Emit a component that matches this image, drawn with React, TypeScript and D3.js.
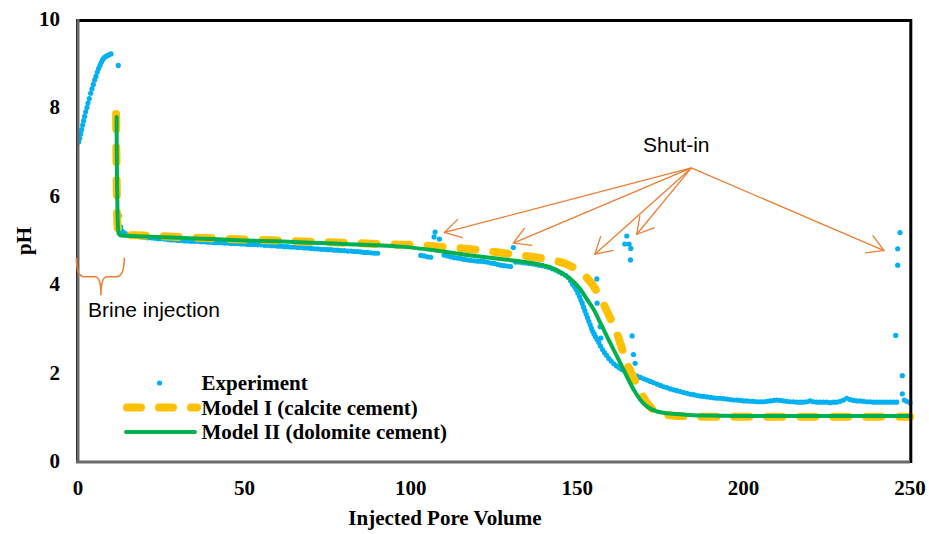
import React from "react";
import * as d3 from "d3";

const xTicks = [0, 50, 100, 150, 200, 250];
const yTicks = [0, 2, 4, 6, 8, 10];

const experiment: [number, number][] = [
  [0.2,7.22],[0.5,7.3],[0.8,7.4],[1.1,7.5],[1.4,7.6],[1.7,7.7],[2.0,7.8],[2.3,7.9],[2.7,8.0],[3.0,8.1],
  [3.4,8.2],[3.8,8.32],[4.2,8.42],[4.6,8.52],[5.0,8.62],[5.4,8.7],[5.8,8.8],[6.2,8.88],[6.6,8.95],[7.0,9.02],
  [7.4,9.08],[7.8,9.12],[8.3,9.15],[8.8,9.17],[9.3,9.19],[9.9,9.21],[12.1,8.95],
  [12.4,5.55],[12.8,5.3],[13.3,5.2],[13.8,5.16],[14.4,5.14],
  [15,5.12],[16,5.1],[17,5.09],[18,5.08],[19,5.07],[20,5.06],[21,5.05],[22,5.05],[23,5.04],[24,5.03],
  [25,5.03],[26,5.02],[27,5.01],[28,5.0],[29,5.0],[30,4.99],[31,4.99],[32,4.98],[33,4.98],[34,4.97],
  [35,4.97],[36,4.97],[37,4.96],[38,4.96],[39,4.95],[40,4.95],[41,4.94],[42,4.94],[43,4.94],[44,4.93],
  [45,4.93],[46,4.92],[47,4.92],[48,4.92],[49,4.91],[50,4.91],[51,4.9],[52,4.9],[53,4.9],[54,4.89],
  [55,4.89],[56,4.88],[57,4.88],[58,4.87],[59,4.87],[60,4.86],[61,4.86],[62,4.85],[63,4.85],[64,4.84],
  [65,4.84],[66,4.83],[67,4.83],[68,4.82],[69,4.82],[70,4.81],[71,4.8],[72,4.8],[73,4.79],[74,4.79],
  [75,4.78],[76,4.78],[77,4.77],[78,4.77],[79,4.76],[80,4.76],[81,4.75],[82,4.75],[83,4.74],[84,4.74],
  [85,4.73],[86,4.72],[87,4.72],[88,4.71],[89,4.7],[90,4.7],
  [103,4.65],[104,4.64],[105,4.62],[106,4.61],[107,5.07],[107.3,5.18],[108.6,5.02],
  [110,4.66],[111,4.64],[112,4.62],[113,4.6],[114,4.59],[115,4.58],[116,4.56],[117,4.55],[118,4.54],
  [119,4.53],[120,4.52],[121,4.52],[122,4.51],[123,4.5],[124,4.48],[125,4.47],[126,4.45],[127,4.43],
  [128,4.42],[129,4.41],[130,4.4],[130.8,4.83],
  [131.5,4.5],[132.5,4.5],[133.5,4.49],[134.5,4.48],[135.5,4.47],[136.5,4.46],[137.5,4.45],[138.5,4.43],
  [139.5,4.42],[140.5,4.4],[141.5,4.38],[142.5,4.35],[143.5,4.32],[144.5,4.28],[145.5,4.24],[146.5,4.2],
  [147.3,4.15],[148,4.08],[148.6,4.0],[149.2,3.94],[149.7,3.88],[150.2,3.8],[150.7,3.72],[151.1,3.64],
  [151.5,3.57],[151.9,3.48],[152.3,3.4],[152.7,3.32],[153.1,3.24],[153.5,3.16],[153.9,3.08],[154.3,3.0],
  [154.7,2.93],[155.1,2.87],[155.5,2.81],[156,2.75],[156.5,2.68],[157,2.6],[157.6,2.52],[158.2,2.45],
  [158.8,2.39],[159.5,2.32],[160.2,2.26],[161,2.2],[161.8,2.15],[162.6,2.11],[163.4,2.07],[164.2,2.04],
  [165,2.01],[166,1.98],[167,1.95],[168,1.92],[169,1.89],[170,1.86],[171,1.83],[172,1.8],[173,1.77],
  [174,1.74],[175,1.71],[176,1.68],[177,1.66],[178,1.63],[179,1.61],[180,1.59],[181,1.57],[182,1.55],
  [183,1.53],[184,1.51],[185,1.5],[186,1.48],[187,1.47],[188,1.46],[189,1.45],[190,1.44],[191,1.43],
  [192,1.42],[193,1.42],[194,1.41],[195,1.4],[196,1.39],[197,1.38],[198,1.38],[199,1.37],[200,1.36],
  [201,1.36],[202,1.35],[203,1.35],[204,1.34],[205,1.34],[206,1.34],[207,1.35],[208,1.36],[209,1.37],
  [210,1.38],[211,1.37],[212,1.36],[213,1.35],[214,1.34],[215,1.34],[216,1.33],[217,1.33],[218,1.33],
  [219,1.34],[220,1.36],[221,1.34],[222,1.33],[223,1.33],[224,1.33],[225,1.33],[226,1.32],[227,1.33],
  [228,1.33],[229,1.35],[230,1.38],[231,1.42],[232,1.39],[233,1.37],[234,1.36],[235,1.36],[236,1.35],
  [237,1.34],[238,1.34],[239,1.33],[240,1.33],[241,1.33],[242,1.33],[243,1.33],[244,1.33],[245,1.33],
  [246,1.33],
  [155.9,4.12],[156,3.57],[156.9,3.04],[157.1,2.78],[166.5,2.83],[166.9,2.41],[167.4,2.21],
  [164.9,5.09],[164.3,4.91],[165.6,4.91],[166.1,4.81],[166,4.55],
  [247,5.17],[246.3,4.8],[246.3,4.43],[245.7,2.84],[247.7,1.93],[247.7,1.52],[248.3,1.38],[249,1.35],[250,1.32],
];

const model1: [number, number][] = [
  [11.45,7.85],[11.5,7.3],[11.6,6.5],[11.7,5.8],[11.9,5.3],[12.3,5.14],[13,5.12],[20,5.1],[30,5.07],
  [40,5.04],[50,5.01],[60,4.99],[70,4.96],[80,4.94],[90,4.91],[100,4.89],[112,4.83],[122,4.76],
  [132,4.66],[142,4.55],[147,4.45],[151,4.27],[154,4.05],[157,3.69],[159.5,3.3],[161.6,2.96],
  [163,2.65],[164.6,2.28],[166.5,1.95],[168,1.72],[171,1.31],[173,1.15],[175,1.08],[180,1.02],
  [190,1.0],[250,1.0],
];

const model2: [number, number][] = [
  [11.6,7.78],[11.65,7.0],[11.75,6.2],[11.9,5.5],[12.2,5.15],[13,5.1],[20,5.08],[30,5.05],[40,5.02],
  [50,4.99],[60,4.97],[70,4.94],[80,4.91],[90,4.88],[97,4.85],[107,4.77],[117,4.66],[127,4.57],
  [137,4.47],[142,4.38],[145,4.27],[147,4.17],[149,4.05],[151,3.88],[153,3.65],[155,3.42],[157,3.12],
  [159,2.81],[161,2.51],[163,2.21],[165,1.9],[167,1.61],[169,1.38],[171,1.23],[174,1.12],[177,1.08],
  [182,1.05],[187,1.03],[200,1.02],[250,1.02],
];

const legendLabels = ["Experiment", "Model I (calcite cement)", "Model II (dolomite cement)"];

// annotation anchors in data coordinates
const shutInOrigin: [number, number] = [184.3, 6.63];
const shutInTips: [number, number][] = [
  [110.1, 5.17], [130.8, 4.93], [155.3, 4.68], [167.9, 5.13], [242.2, 4.76],
];

const BLUE = "#00B0F0";
const GOLD = "#FFC000";
const GREEN = "#00B050";
const ORANGE = "#ED7D31";
const SERIF = "'Liberation Serif', 'Times New Roman', serif";
const SANS = "'Liberation Sans', Arial, sans-serif";

export default function App() {
  const W = 929, H = 534;
  const x = d3.scaleLinear().domain([0, 250]).range([78, 910]);
  const y = d3.scaleLinear().domain([0, 10]).range([461, 19]);

  const line = d3.line<[number, number]>()
    .x(d => x(d[0]))
    .y(d => y(d[1]))
    .curve(d3.curveMonotoneX);

  const [ox, oy] = [x(shutInOrigin[0]), y(shutInOrigin[1])];
  const arrows = shutInTips.map(([tx, ty]) => {
    const px = x(tx), py = y(ty);
    const ang = Math.atan2(oy - py, ox - px);
    const L = 19, a = (30 * Math.PI) / 180;
    const h1 = [px + L * Math.cos(ang - a), py + L * Math.sin(ang - a)];
    const h2 = [px + L * Math.cos(ang + a), py + L * Math.sin(ang + a)];
    return { px, py, h1, h2 };
  });

  // brace under the first segment
  const bl = x(-0.5), br = x(13.9), bm = x(6.9);
  const bt = y(4.6), bh = y(4.17), btip = y(3.75);
  const brace = `M${bl},${bt} Q${bl},${bh} ${bl + 8},${bh} L${bm - 6},${bh} Q${bm},${bh} ${bm},${btip} Q${bm},${bh} ${bm + 6},${bh} L${br - 8},${bh} Q${br},${bh} ${br},${bt}`;

  return (
    <div style={{ position: "absolute", left: 0, top: 0 }}>
      <svg width={W} height={H} style={{ display: "block", background: "#fff" }}>
        <rect x={0} y={0} width={W} height={H} fill="#fff" />
        {/* experiment dots */}
        <g fill={BLUE}>
          {experiment.map((d, i) => (
            <circle key={i} cx={x(d[0])} cy={y(d[1])} r={2.6} />
          ))}
        </g>
        {/* Model I */}
        <path d={line(model1) || ""} fill="none" stroke={GOLD} strokeWidth={8}
          strokeDasharray="15 18" strokeLinecap="round" strokeLinejoin="round" />
        {/* Model II */}
        <path d={line(model2) || ""} fill="none" stroke={GREEN} strokeWidth={4}
          strokeLinecap="round" strokeLinejoin="round" />

        {/* frame */}
        <line x1={76} y1={20.5} x2={912} y2={20.5} stroke="#000" strokeWidth={3} />
        <line x1={910.8} y1={19} x2={910.8} y2={463} stroke="#000" strokeWidth={3} />
        <line x1={78} y1={19} x2={78} y2={463} stroke="#6a6a6a" strokeWidth={3} />
        <line x1={76.5} y1={19} x2={76.5} y2={463} stroke="#333" strokeWidth={1} />
        <line x1={76} y1={462} x2={910} y2={462} stroke="#6a6a6a" strokeWidth={3} />

        {/* y ticks */}
        <g fontFamily={SERIF} fontWeight="bold" fontSize={21} fill="#000">
          {yTicks.map(t => (
            <text key={t} x={60} y={y(t) + 7} textAnchor="end">{t}</text>
          ))}
          {xTicks.map(t => (
            <text key={t} x={x(t)} y={495} textAnchor="middle">{t}</text>
          ))}
          <text x={445} y={525} textAnchor="middle">Injected Pore Volume</text>
          <text transform={`translate(31,241) rotate(-90)`} textAnchor="middle">pH</text>
        </g>

        {/* legend */}
        <circle cx={159.5} cy={383} r={2.6} fill={BLUE} />
        <line x1={127} y1={407.5} x2={197} y2={407.5} stroke={GOLD} strokeWidth={8}
          strokeDasharray="14 18" strokeLinecap="round" />
        <line x1={126} y1={432} x2={195} y2={432} stroke={GREEN} strokeWidth={4} strokeLinecap="round" />
        <g fontFamily={SERIF} fontWeight="bold" fontSize={21} fill="#000">
          {legendLabels.map((l, i) => (
            <text key={l} x={201.5} y={390 + i * 24.5}>{l}</text>
          ))}
        </g>

        {/* annotations */}
        <g stroke={ORANGE} strokeWidth={1.3} fill="none">
          {arrows.map((a, i) => (
            <g key={i}>
              <line x1={ox} y1={oy} x2={a.px} y2={a.py} />
              <polyline points={`${a.h1[0]},${a.h1[1]} ${a.px},${a.py} ${a.h2[0]},${a.h2[1]}`} />
            </g>
          ))}
          <path d={brace} strokeWidth={1.5} />
        </g>
        <text x={643} y={152} fontFamily={SANS} fontSize={21} fill="#000">Shut-in</text>
        <text x={88} y={317} fontFamily={SANS} fontSize={21} fill="#000">Brine injection</text>
      </svg>
    </div>
  );
}
